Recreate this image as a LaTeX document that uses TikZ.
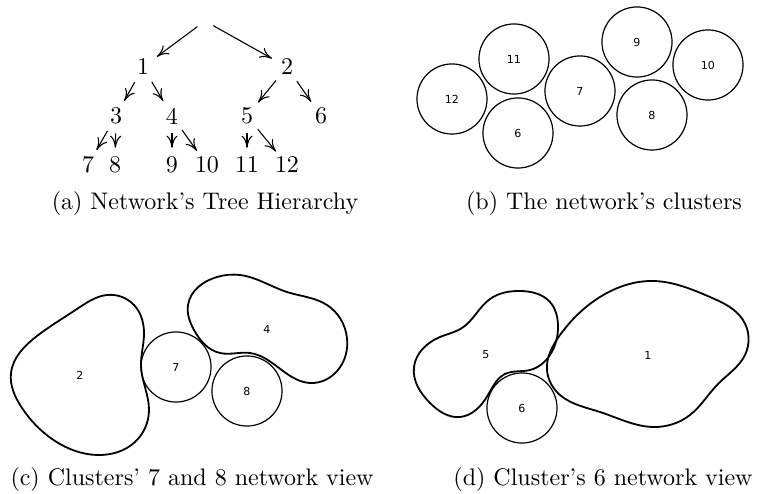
\documentclass[tikz,border=0pt]{standalone}
\usepackage{fontspec}
\newfontfamily\lblfont{DejaVu Sans}
\usetikzlibrary{arrows.meta,hobby}
\begin{document}
\begin{tikzpicture}[x=0.4167pt,y=-0.4167pt,
  tnode/.style={circle,inner sep=0pt,minimum size=14pt,font=\normalsize},
  troot/.style={circle,inner sep=0pt,minimum size=7.5pt},
  tedge/.style={line width=0.45pt,-{To[length=5pt,width=4.6pt]}},
  clus/.style={circle,draw,line width=0.5pt,inner sep=0pt,minimum size=29.2pt,font=\lblfont\fontsize{4.6}{5}\selectfont},
  blob/.style={draw,line width=0.75pt,use Hobby shortcut,closed=true},
  blab/.style={font=\lblfont\fontsize{4.6}{5}\selectfont},
  capt/.style={anchor=base,font=\normalsize}]
\useasboundingbox (0,0) rectangle (759,494);
% (a) tree
\node[troot] (r) at (205,21) {};
\node[tnode] (t1) at (143,67) {1};
\node[tnode] (t2) at (287,67) {2};
\node[tnode] (t3) at (116,116) {3};
\node[tnode] (t4) at (172,116) {4};
\node[tnode] (t5) at (247,116) {5};
\node[tnode] (t6) at (321,116) {6};
\node[tnode] (t7) at (88,165) {7};
\node[tnode] (t8) at (115,165) {8};
\node[tnode] (t9) at (172,165) {9};
\node[tnode] (t10) at (207,165) {10};
\node[tnode] (t11) at (247,165) {11};
\node[tnode] (t12) at (287,165) {12};
\draw[tedge] (r) -- (t1);
\draw[tedge] (r) -- (t2);
\draw[tedge] (t1) -- (t3);
\draw[tedge] (t1) -- (t4);
\draw[tedge] (t2) -- (t5);
\draw[tedge] (t2) -- (t6);
\draw[tedge] (t3) -- (t7);
\draw[tedge] (t3) -- (t8);
\draw[tedge] (t4) -- (t9);
\draw[tedge] (t4) -- (t10);
\draw[tedge] (t5) -- (t11);
\draw[tedge] (t5) -- (t12);
\node[capt] (ca) at (205,210) {(a) Network's Tree Hierarchy};
% (b) clusters
\node[clus] (b12) at (452,99) {12};
\node[clus] (b11) at (514,59) {11};
\node[clus] (b6) at (518,133) {6};
\node[clus] (b7) at (580,91) {7};
\node[clus] (b9) at (637,42) {9};
\node[clus] (b8) at (652,115) {8};
\node[clus] (b10) at (708,65) {10};
\node[capt] (cb) at (604,210) {(b) The network's clusters};
% (c)
\draw[blob] (11,373) .. (37,336) .. (77,309) .. (107,295) .. (134,305)
 .. (144,335) .. (141,366) .. (149,410) .. (135,442) .. (97,455)
 .. (55,441) .. (22,408);
\node[blab] (l2) at (80,375) {2};
\draw[blob] (188,305) .. (217,277) .. (240,275) .. (287,292)
 .. (327,305) .. (347,338) .. (338,370) .. (310,383) .. (283,371)
 .. (250,353) .. (220,353) .. (194,330);
\node[blab] (l4) at (267,329) {4};
\node[clus] (c7) at (176,367) {7};
\node[clus] (c8) at (247,391) {8};
\node[capt] (cc) at (192,486) {(c) Clusters' 7 and 8 network view};
% (d)
\draw[blob] (414,367) .. (440,337) .. (462,328) .. (490,299) .. (520,291)
 .. (550,302) .. (558,325) .. (550,355) .. (530,370) .. (505,374)
 .. (488,395) .. (460,417) .. (430,403);
\node[blab] (l5) at (486,355) {5};
\draw[blob] (547,370) .. (560,335) .. (600,297) .. (653,281) .. (710,297)
 .. (743,320) .. (745,355) .. (718,384) .. (690,415) .. (653,427)
 .. (600,412) .. (560,395);
\node[blab] (l1) at (648,355) {1};
\node[clus] (d6) at (522,408) {6};
\node[capt] (cd) at (603,486) {(d) Cluster's 6 network view};
\end{tikzpicture}
\end{document}
